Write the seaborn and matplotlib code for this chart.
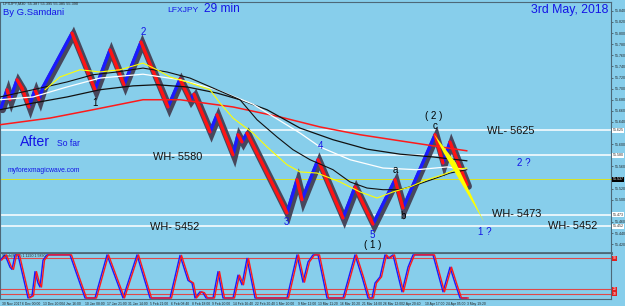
import numpy as np
import pandas as pd
import seaborn as sns
import matplotlib.pyplot as plt
import matplotlib.transforms as mtransforms

# ---- price zigzag (bar index, price) ----
zz_bar = [1, 7, 10, 17, 22, 29, 35, 39, 43, 72, 95, 110, 124, 141, 168, 180, 190, 194, 210, 217,
          233, 238, 242, 247, 287, 297, 302, 318, 343, 355, 373, 395, 403, 435, 443, 450, 467]
zz_price = [55.665, 55.698, 55.680, 55.716, 55.701, 55.667, 55.698, 55.680, 55.703, 55.800,
            55.698, 55.770, 55.707, 55.784, 55.667, 55.717, 55.680, 55.690, 55.622, 55.653,
            55.581, 55.617, 55.604, 55.620, 55.476, 55.536, 55.500, 55.572, 55.467, 55.523,
            55.456, 55.536, 55.485, 55.617, 55.566, 55.604, 55.527]

# ---- moving averages ----
red_bar = [0, 50, 93, 143, 180, 233, 280, 320, 360, 400, 433, 467]
red_price = [55.635, 55.647, 55.662, 55.680, 55.680, 55.667, 55.649, 55.631, 55.617, 55.606, 55.597, 55.588]

blk_slow_bar = [0, 33, 67, 100, 133, 157, 187, 217, 240, 267, 300, 333, 367, 400, 433, 467]
blk_slow_price = [55.662, 55.674, 55.685, 55.698, 55.705, 55.707, 55.703, 55.692, 55.680, 55.662,
                  55.629, 55.608, 55.591, 55.582, 55.577, 55.570]

blk_fast_bar = [0, 33, 67, 93, 117, 143, 167, 190, 217, 240, 257, 277, 293, 310, 333, 350, 367,
                383, 400, 417, 433, 450, 467]
blk_fast_price = [55.685, 55.698, 55.712, 55.725, 55.730, 55.737, 55.730, 55.719, 55.698, 55.680,
                  55.644, 55.613, 55.590, 55.572, 55.554, 55.532, 55.521, 55.518, 55.518, 55.527,
                  55.537, 55.548, 55.554]

wht_bar = [0, 33, 67, 100, 143, 180, 217, 253, 300, 320, 350, 383, 417, 447, 467]
wht_price = [55.680, 55.685, 55.703, 55.719, 55.726, 55.716, 55.698, 55.672, 55.620, 55.595,
             55.572, 55.557, 55.554, 55.559, 55.554]

yel_bar = [45, 60, 80, 100, 120, 143, 157, 170, 187, 210, 220, 233, 253, 267, 287, 300, 317, 340,
           360, 377, 393, 410, 427, 443, 457, 467]
yel_price = [55.698, 55.721, 55.734, 55.730, 55.734, 55.746, 55.734, 55.721, 55.712, 55.698,
             55.674, 55.647, 55.620, 55.595, 55.563, 55.550, 55.548, 55.532, 55.514, 55.503,
             55.514, 55.523, 55.536, 55.545, 55.555, 55.557]

# projected move (yellow wedge)
wedge_bar = [434, 456, 484, 444]
wedge_price = [55.618, 55.566, 55.460, 55.583]

# horizontal levels
white_levels = [55.625, 55.580, 55.473, 55.452]
current_price = 55.537

# ---- stochastic ----
stoch_bar = [0, 5, 10, 12, 15, 18, 28, 32, 35, 38, 40, 43, 47, 70, 85, 95, 107, 123, 137, 150, 170,
             180, 188, 192, 195, 200, 203, 206, 213, 218, 223, 233, 238, 242, 247, 255, 287, 297,
             303, 308, 313, 318, 327, 343, 355, 362, 368, 372, 375, 380, 385, 388, 393, 402, 408,
             413, 433, 443, 450, 455, 460, 467]
stoch_k = [86, 98, 70, 65, 98, 98, 0, 5, 60, 34, 25, 86, 98, 98, 0, 0, 98, 0, 98, 0, 0,
           97, 40, 34, 0, 14, 12, 0, 0, 60, 0, 0, 52, 30, 90, 0, 0, 98,
           36, 82, 98, 98, 0, 0, 98, 48, 0, 0, 34, 48, 98, 90, 98, 14, 70,
           98, 98, 14, 70, 34, 0, 0]
stoch_levels = [90, 20, 10]

tick_bars = [2, 22, 43, 63, 85, 107, 128, 150, 171, 192, 212, 233, 255, 276, 298, 318, 340, 362,
             383, 403, 425, 446, 467]
tick_labels = ["30 Nov 2017", "6 Dec 00:00", "13 Dec 20:00", "4 Jan 16:00", "10 Jan 08:00",
               "17 Jan 21:00", "31 Jan 14:00", "5 Feb 21:00", "6 Feb 08:40", "8 Feb 18:00",
               "9 Feb 20:00", "14 Feb 16:40", "22 Feb 20:40", "1 Mar 20:00", "9 Mar 12:00",
               "13 Mar 11:20", "16 Mar 10:20", "21 Mar 14:00", "26 Mar 12:00", "2 Apr 20:40",
               "10 Apr 17:00", "24 Apr 05:00", "3 May 19:20"]

sns.set_theme(style='white')
plt.rcParams['font.family'] = ['Liberation Sans', 'DejaVu Sans']

bg = '#87ceeb'
blue_txt = '#1414e6'
W, H = 625, 306
fig = plt.figure(figsize=(6.25, 3.06), dpi=100, facecolor=bg)
ax = fig.add_axes([0, 53 / H, 611 / W, 251 / H])
ax2 = fig.add_axes([0, 7 / H, 611 / W, 46 / H])
for a in (ax, ax2):
    a.set_facecolor(bg)
    a.set_xlim(0, 611)
    for s in a.spines.values():
        s.set_color('#4d6878')
        s.set_linewidth(0.8)
ax.spines['bottom'].set_linewidth(2)
ax.set_ylim(55.404, 55.856)
ax2.set_ylim(-2.3, 102.3)

# levels
for lv in white_levels:
    ax.axhline(lv, color='white', lw=1.1, zorder=2)
ax.axhline(current_price, color='#e6e600', lw=0.6, zorder=2)

# zigzag: dark shadow + coloured up/down legs
rows = []
for i in range(len(zz_bar) - 1):
    d = 'up' if zz_price[i + 1] > zz_price[i] else 'down'
    rows.append((i, d, zz_bar[i], zz_price[i]))
    rows.append((i, d, zz_bar[i + 1], zz_price[i + 1]))
zz = pd.DataFrame(rows, columns=['seg', 'dir', 'bar', 'price'])
ax.plot(np.array(zz_bar) + 1.5, np.array(zz_price) - 0.003, color='#47475c', lw=5,
        solid_joinstyle='miter', zorder=4)
sns.lineplot(data=zz, x='bar', y='price', hue='dir', units='seg', estimator=None,
             palette={'up': '#1a1aff', 'down': '#ff1414'}, lw=2.4, legend=False, ax=ax, zorder=5)

# moving averages
for bars, prices, col, lw in [(red_bar, red_price, '#ff1a1a', 1.1),
                              (blk_slow_bar, blk_slow_price, '#111111', 0.9),
                              (wht_bar, wht_price, 'white', 0.9),
                              (blk_fast_bar, blk_fast_price, '#111111', 0.8),
                              (yel_bar, yel_price, '#ffff00', 0.8)]:
    sns.lineplot(x=bars, y=prices, color=col, lw=lw, ax=ax, zorder=6)

ax.fill(wedge_bar, wedge_price, color='#ffff00', zorder=7, lw=0)

# wave labels
waves = [("1", 95, 55.674, 'black'), ("2", 143, 55.802, blue_txt), ("3", 286, 55.460, blue_txt),
         ("4", 320, 55.597, blue_txt), ("5", 372, 55.436, blue_txt), ("( 1 )", 373, 55.418, 'black'),
         ("a", 395, 55.553, 'black'), ("b", 403, 55.471, 'black'), ("c", 435, 55.632, 'black'),
         ("( 2 )", 434, 55.650, 'black'), ("2 ?", 524, 55.566, blue_txt), ("1 ?", 485, 55.442, blue_txt)]
for t, x, y, c in waves:
    ax.text(x, y, t, color=c, fontsize=7, ha='center', va='center', zorder=8)

levels_txt = [("WH- 5580", 153, 55.577), ("WH- 5452", 150, 55.451), ("WL- 5625", 487, 55.623),
              ("WH- 5473", 492, 55.475), ("WH- 5452", 548, 55.453)]
for t, x, y in levels_txt:
    ax.text(x, y, t, color='#111111', fontsize=7.9, ha='left', va='center', zorder=8)

# header / notes
def ftxt(x, y, s, **kw):
    fig.text(x / W, 1 - y / H, s, va='center', **kw)

ftxt(3, 3.5, "LFXJPY,M30  55.387 55.395 55.385 55.390", fontsize=2.8, color='#222222')
ftxt(3, 12.5, "By G.Samdani", fontsize=6.8, color=blue_txt)
ftxt(167, 10, "LFXJPY", fontsize=6.1, color=blue_txt)
ftxt(204, 9.5, "29 min", fontsize=8.6, color=blue_txt)
ftxt(608, 10.5, "3rd May, 2018", fontsize=8.8, color=blue_txt, ha='right')
ftxt(20, 142, "After", fontsize=10.2, color=blue_txt)
ftxt(57, 143.5, "So far", fontsize=6.2, color=blue_txt)
ftxt(8, 171, "myforexmagicwave.com", fontsize=4.9, color=blue_txt)

# right price scale (skip plain ticks that sit under a highlighted level)
ax.yaxis.tick_right()
marked = white_levels + [current_price]
yt = [v for v in np.round(np.arange(55.42, 55.845, 0.02), 2)
      if min(abs(v - m) for m in marked) > 0.007]
ax.set_yticks(yt)
ax.set_yticklabels([f"{v:.3f}" for v in yt])
ax.tick_params(axis='y', labelsize=2.6, length=1.5, width=0.4, pad=1, colors='#222222')
ax.set_xticks([])
ax.set_xlabel('')
ax.set_ylabel('')
tr = mtransforms.blended_transform_factory(ax.transAxes, ax.transData)
for lv in white_levels:
    ax.text(1.003, lv, f"{lv:.3f}", transform=tr, fontsize=2.6, va='center', ha='left',
            bbox=dict(boxstyle='square,pad=0.15', fc='white', ec='none'), clip_on=False)
ax.text(1.003, current_price, f"{current_price:.3f}", transform=tr, fontsize=2.6, color='white',
        va='center', ha='left', bbox=dict(boxstyle='square,pad=0.15', fc='black', ec='none'),
        clip_on=False)

# stochastic panel
for lv in stoch_levels:
    ax2.axhline(lv, color='#e04848', lw=0.8, zorder=2)
sns.lineplot(x=np.array(stoch_bar) + 1.5, y=stoch_k, color='#ff1a1a', lw=1.0, ax=ax2, zorder=4)
sns.lineplot(x=stoch_bar, y=stoch_k, color='#1a1aff', lw=1.0, ax=ax2, zorder=3)
ax2.text(2, 96, "Stoch(8,3,3) 1.1290 1.5830", fontsize=2.6, color='#222222', va='center')
ax2.set_yticks([])
tr2 = mtransforms.blended_transform_factory(ax2.transAxes, ax2.transData)
for lv in stoch_levels:
    ax2.text(1.003, lv, f"{lv}", transform=tr2, fontsize=2.4, color='white', va='center',
             bbox=dict(boxstyle='square,pad=0.1', fc='#e02020', ec='none'), clip_on=False)
ax2.set_xticks(tick_bars)
ax2.set_xticklabels(tick_labels, ha='left')
ax2.tick_params(axis='x', labelsize=2.4, length=1.5, width=0.4, pad=0.5, colors='#222222')
ax2.set_xlabel('')
ax2.set_ylabel('')

fig.savefig('out.png', dpi=100, facecolor=bg)
